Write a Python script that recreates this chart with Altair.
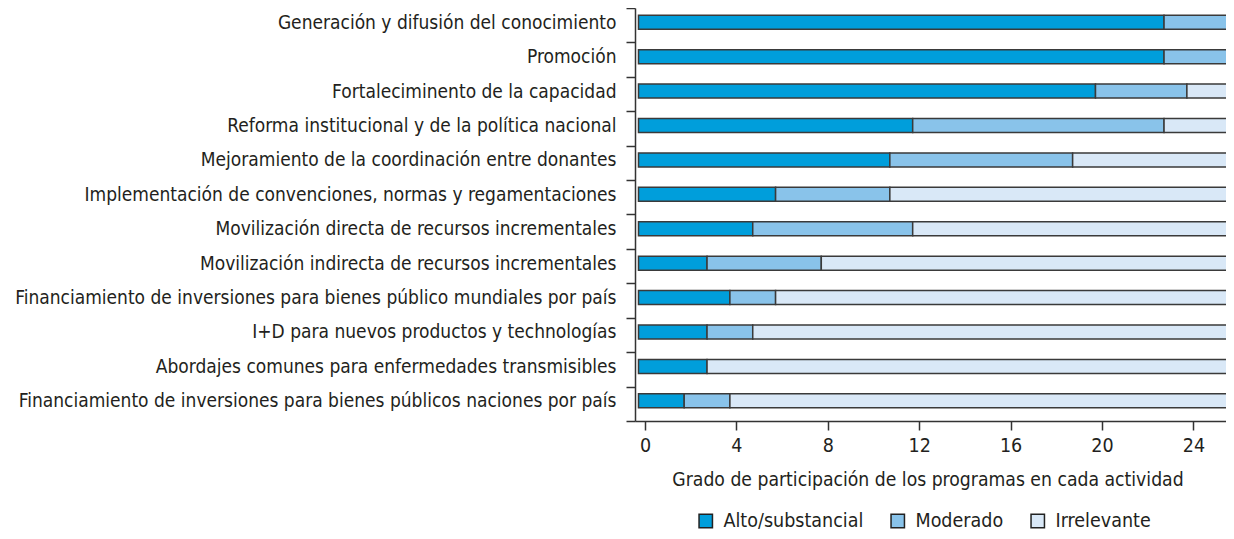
import altair as alt
import pandas as pd

# ---- data ----
categorias = [
    "Generación y difusión del conocimiento",
    "Promoción",
    "Fortaleciminento de la capacidad",
    "Reforma institucional y de la política nacional",
    "Mejoramiento de la coordinación entre donantes",
    "Implementación de convenciones, normas y regamentaciones",
    "Movilización directa de recursos incrementales",
    "Movilización indirecta de recursos incrementales",
    "Financiamiento de inversiones para bienes público mundiales por país",
    "I+D para nuevos productos y technologías",
    "Abordajes comunes para enfermedades transmisibles",
    "Financiamiento de inversiones para bienes públicos naciones por país",
]
alto = [23, 23, 20, 12, 11, 6, 5, 3, 4, 3, 3, 2]
moderado = [3, 3, 4, 11, 8, 5, 7, 5, 2, 2, 0, 2]
irrelevante = [0, 0, 2, 3, 7, 15, 14, 18, 20, 21, 23, 22]
niveles = ["Alto/substancial", "Moderado", "Irrelevante"]
colores = ["#009edb", "#89c3ea", "#d9e8f7"]
ticks_x = [0, 4, 8, 12, 16, 20, 24]
titulo_x = "Grado de participación de los programas en cada actividad"

FONT = "Liberation Sans Narrow, DejaVu Sans Condensed, Roboto Condensed, Arial Narrow, sans-serif"
TXT = "#231f20"
LINE = "#333333"

rows = []
for i, c in enumerate(categorias):
    s = 0
    for k, (nivel, vals) in enumerate(zip(niveles, [alto, moderado, irrelevante])):
        v = vals[i]
        if v > 0:
            rows.append(dict(actividad=c, nivel=nivel, orden=k, inicio=s, fin=s + v))
        s += v
df = pd.DataFrame(rows)

W, H = 591, 413
U = 22.85  # pixels per unit
span = W / U

bars = alt.Chart(df).mark_bar(size=14, stroke="#3a3a3a", strokeWidth=1.5, yOffset=-3).encode(
    x=alt.X("inicio:Q", scale=alt.Scale(domain=[-0.153, -0.153 + span], nice=False, zero=False), axis=None),
    x2="fin:Q",
    y=alt.Y(
        "actividad:N",
        sort=categorias,
        scale=alt.Scale(paddingInner=0, paddingOuter=0),
        axis=alt.Axis(
            title=None,
            tickBand="extent",
            tickSize=9,
            tickWidth=1.5,
            tickColor=LINE,
            domainColor=LINE,
            domainWidth=1.5,
            labelFont=FONT,
            labelFontSize=19,
            labelColor=TXT,
            labelPadding=10,
            labelOffset=-3,
            labelLimit=0,
        ),
    ),
    color=alt.Color(
        "nivel:N",
        sort=niveles,
        scale=alt.Scale(domain=niveles, range=colores),
        legend=alt.Legend(
            title=None,
            orient="none",
            direction="horizontal",
            legendX=61,
            legendY=503,
            symbolType="square",
            symbolSize=180,
            symbolStrokeColor="#222222",
            symbolStrokeWidth=1.5,
            symbolOpacity=1,
            labelFont=FONT,
            labelFontSize=19.5,
            labelColor=TXT,
            labelOffset=8,
            columnPadding=24,
            labelLimit=0,
        ),
    ),
    order=alt.Order("orden:Q"),
)

eje = alt.Chart(pd.DataFrame({"v": ticks_x})).mark_point(opacity=0).encode(
    x=alt.X(
        "v:Q",
        scale=alt.Scale(domain=[-0.4376, -0.4376 + span], nice=False, zero=False),
        axis=alt.Axis(
            values=ticks_x,
            orient="bottom",
            title=titulo_x,
            grid=False,
            tickSize=9,
            tickWidth=1.5,
            tickColor=LINE,
            domainColor=LINE,
            domainWidth=1.5,
            labelFont=FONT,
            labelFontSize=19.5,
            labelColor=TXT,
            labelPadding=6,
            titleFont=FONT,
            titleFontSize=19.2,
            titleFontWeight="normal",
            titleColor=TXT,
            titleX=292.5,
            titleY=64,
            titleBaseline="alphabetic",
            titleAlign="center",
        ),
    ),
)

chart = (
    alt.layer(bars, eje)
    .resolve_scale(x="independent")
    .properties(
        width=W,
        height=H,
        padding={"left": 627, "top": 0, "right": 0, "bottom": 110},
        autosize=alt.AutoSizeParams(type="none"),
    )
    .configure_view(stroke=None)
)

chart.save("out.html", embed_options={"renderer": "svg", "actions": False})
